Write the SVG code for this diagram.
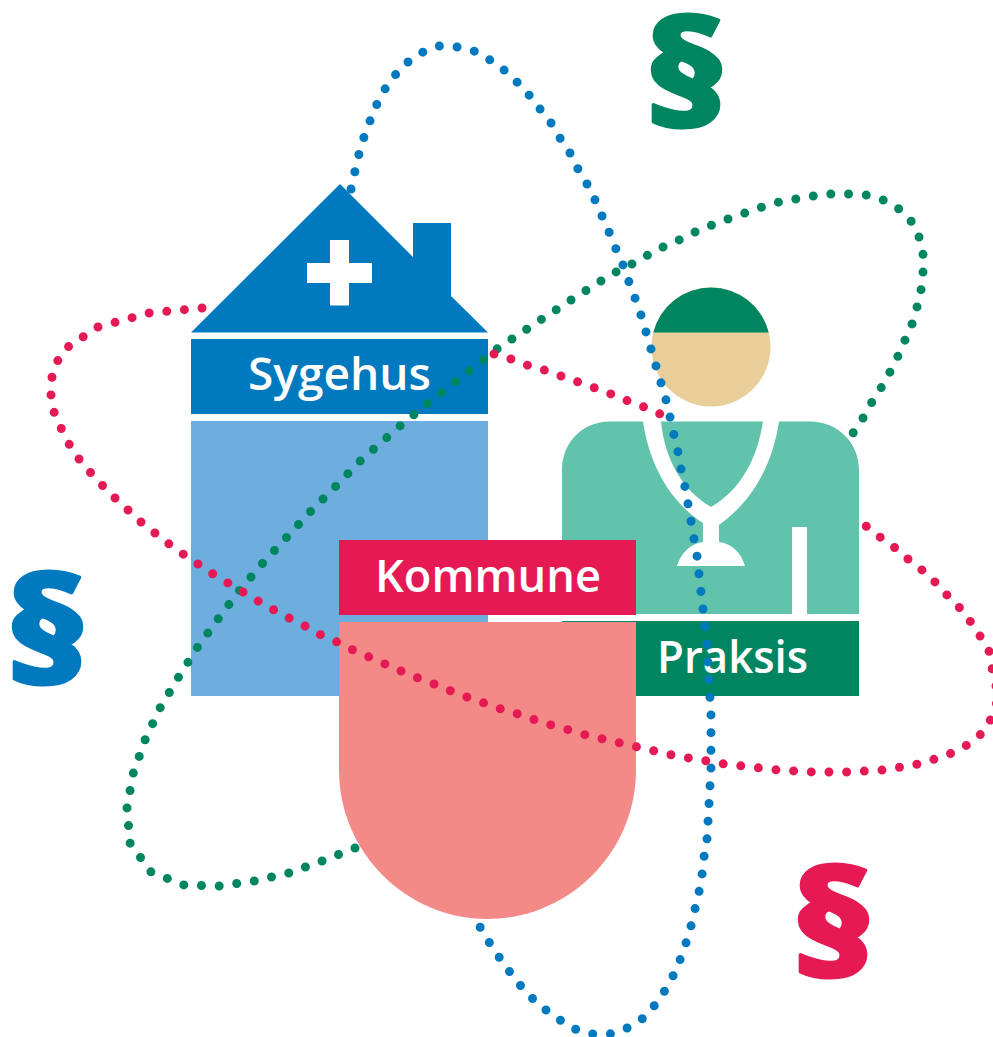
<svg xmlns="http://www.w3.org/2000/svg" width="993" height="1037" viewBox="0 0 993 1037">
<style>
.orbit{fill:none;stroke-width:9;stroke-linecap:round;stroke-linejoin:round;stroke-dasharray:0 1}
.lbl{font-family:"Open Sans","Noto Sans","Liberation Sans",sans-serif;font-weight:600;fill:#fff;font-size:45px}
.par{font-family:"Open Sans","Liberation Sans",sans-serif;font-weight:800;font-size:146px;text-anchor:middle;stroke-width:3;stroke-linejoin:round}
</style>
<rect width="993" height="1037" fill="#fff"/>
<g id="sygehus">
<path d="M191 332.500L340 184L413 257V223H451V296L488 332.500Z" fill="#0079bf"/>
<path d="M330 240H349V263H372V283H349V305.500H330V283H307V263H330Z" fill="#fff"/>
<rect x="191" y="339" width="297" height="75" fill="#0079bf"/>
<text class="lbl" x="248" y="390" textLength="183" lengthAdjust="spacingAndGlyphs">Sygehus</text>
<rect x="191" y="421" width="297" height="275" fill="#6daede"/>
</g>
<g id="praksis">
<path d="M643 421.500H610C582 421.500 562 443 562 470V614H792V527H807V614H859V470C859 443 838 421.500 810 421.500H779C772 468 750 503 719 525V542C733 544 741 553 745 566H677C681 553 690 544 703 542V523C672 503 650 468 643 421.500Z" fill="#61c3ab"/>
<path d="M661 421.500H763C757 460 740 490 711 507C682 490 665 460 661 421.500Z" fill="#61c3ab"/>
<circle cx="711" cy="347" r="59.500" fill="#e8cf9a"/>
<path d="M653.300 332.400A59.500 59.500 0 0 1 768.700 332.400Z" fill="#008561"/>
<rect x="562" y="621" width="297" height="75" fill="#008561"/>
<text class="lbl" x="657" y="673" textLength="151" lengthAdjust="spacingAndGlyphs">Praksis</text>
</g>
<g id="kommune">
<rect x="339" y="540" width="297" height="75" fill="#e51a54"/>
<text class="lbl" x="375" y="592" textLength="226" lengthAdjust="spacingAndGlyphs">Kommune</text>
<path d="M339 622H636V770C636 852 569 919 487.500 919C406 919 339 852 339 770Z" fill="#f48a87"/>
</g>
<g id="connectors">
<polyline class="orbit" stroke="#008561" pathLength="89.020" points="355,848 322,861 289,873 254,881 219,886 184,885 151,872 130,843 127,808 133,774 145,740 160,708 178,678 197,648 218,619 239,591 262,564 286,538 310,512 335,487 359,462 400,426 427,404 455,382 483,360 497,349 542,319 571,300 601,281 616,272 632,264 648,255 663,247 679,240 695,232 712,225 728,219 745,213 762,207 779,202 796,199 813,196 831,194 849,194 866,195 883,200 899,209 911,221 919,237 923,254 923,272 921,290 917,307 912,324 905,340 898,356 890,372 881,388 872,402 863,418 853,433"/>
<polyline class="orbit" stroke="#e51a54" pathLength="86.020" points="202,308 149,313 98,327 69,346 58,360 52,377 51,395 54,412 61,428 69,444 79,459 90,472 102,485 115,498 128,510 141,522 155,533 169,544 183,554 198,564 213,574 228,583 243,592 258,601 274,610 289,618 305,626 321,635 337,642 353,650 369,657 385,664 401,671 418,678 434,684 451,691 467,697 484,703 501,709 518,714 535,720 551,725 569,730 586,735 603,739 620,743 637,747 655,751 672,755 689,758 707,761 724,764 742,766 760,768 777,770 795,771 813,772 830,772 848,772 866,771 883,770 901,767 918,764 935,759 952,753 967,745 981,734 991,719 997,702 996,685 992,668 989,651 980,636 970,621 959,607 947,595 935,582 922,570 908,559 894,547 880,537 866,526"/>
<polyline class="orbit" stroke="#e51a54" pathLength="10.020" points="494,354 511,359 527,365 544,370 561,376 578,382 595,388 611,394 628,401 644,407 660,414"/>
<polyline class="orbit" stroke="#0079bf" pathLength="83.020" points="351,189 355,171 359,154 364,137 370,121 377,104 385,89 396,74 408,62 423,52 439,46 457,47 474,51 490,60 504,70 517,82 529,95 540,109 551,123 560,138 570,153 578,169 587,184 595,200 602,216 609,232 616,249 623,265 629,282 635,298 641,315 646,332 651,349 656,366 661,383 666,400 670,417 674,435 678,452 681,469 685,487 688,504 691,521 694,539 697,556 699,574 701,592 703,609 705,627 707,645 708,663 709,680 710,698 711,715 711,733 711,751 711,768 710,786 709,804 708,822 707,839 704,857 702,875 699,892 695,909 691,926 686,943 680,960 673,976 664,992 654,1006 642,1019 627,1028 610,1034 592,1034 575,1029 560,1020 546,1010 532,998 520,985 509,971 499,957 489,942 480,927"/>
</g>
<g id="paragraphs">
<text class="par" transform="translate(686 126) scale(1.16 1)" fill="#008561" stroke="#008561">§</text>
<text class="par" transform="translate(47 683) scale(1.16 1)" fill="#0079bf" stroke="#0079bf">§</text>
<text class="par" transform="translate(833 976) scale(1.16 1)" fill="#e51a54" stroke="#e51a54">§</text>
</g>
</svg>
